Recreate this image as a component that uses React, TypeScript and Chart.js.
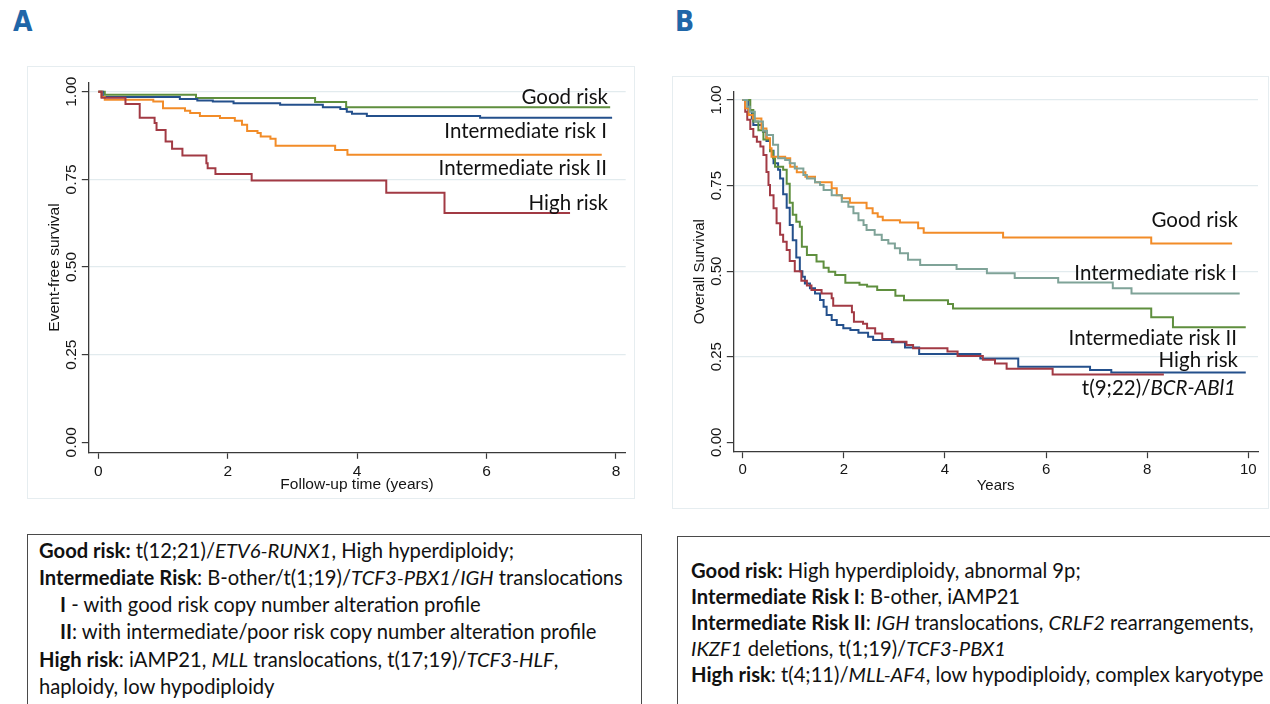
import React, { useEffect, useRef } from "react";
import { Chart, registerables } from "chart.js";

Chart.register(...registerables);

// ---------------- Panel A (Event-free survival) ----------------
const aXTicks = [0, 2, 4, 6, 8];
const aXTickLabels = ["0", "2", "4", "6", "8"];
const aYTicks = [0, 0.25, 0.5, 0.75, 1];
const aYTickLabels = ["0.00", "0.25", "0.50", "0.75", "1.00"];

const aGoodT = [0, 0.1, 1.51, 3.35, 3.83, 7.91];
const aGoodS = [1.0, 0.991, 0.982, 0.971, 0.956, 0.956];

const aInt1T = [0, 0.07, 1.26, 1.53, 1.77, 2.09, 2.81, 3.47, 3.74, 3.84, 3.92, 4.15, 5.9, 7.94];
const aInt1S = [1.0, 0.985, 0.979, 0.975, 0.972, 0.967, 0.963, 0.956, 0.951, 0.943, 0.937, 0.931, 0.926, 0.926];

const aInt2T = [0, 0.05, 0.1, 0.85, 1.0, 1.34, 1.42, 1.57, 1.88, 2.11, 2.22, 2.3, 2.46, 2.51, 2.66, 2.74, 3.66, 3.85, 7.78];
const aInt2S = [1.0, 0.985, 0.977, 0.972, 0.953, 0.946, 0.939, 0.931, 0.925, 0.917, 0.906, 0.888, 0.882, 0.872, 0.866, 0.846, 0.834, 0.82, 0.82];

const aHighT = [0, 0.05, 0.42, 0.64, 0.87, 0.9, 1.04, 1.14, 1.3, 1.67, 1.69, 1.81, 2.37, 4.45, 5.35, 7.29];
const aHighS = [1.0, 0.983, 0.965, 0.926, 0.911, 0.891, 0.858, 0.837, 0.818, 0.796, 0.782, 0.765, 0.747, 0.712, 0.654, 0.654];

// ---------------- Panel B (Overall survival) ----------------
const bXTicks = [0, 2, 4, 6, 8, 10];
const bXTickLabels = ["0", "2", "4", "6", "8", "10"];
const bYTicks = [0, 0.25, 0.5, 0.75, 1];
const bYTickLabels = ["0.00", "0.25", "0.50", "0.75", "1.00"];

const bGoodT = [0, 0.05, 0.12, 0.2, 0.37, 0.47, 0.54, 0.57, 0.84, 0.94, 1.07, 1.24, 1.43, 1.76, 1.86, 1.96, 2.12, 2.45, 2.57, 2.67, 2.77, 3.11, 3.47, 3.58, 5.15, 8.08, 9.68];
const bGoodS = [1.0, 0.976, 0.956, 0.946, 0.917, 0.888, 0.859, 0.834, 0.83, 0.805, 0.789, 0.776, 0.76, 0.742, 0.722, 0.713, 0.7, 0.684, 0.669, 0.659, 0.649, 0.642, 0.625, 0.612, 0.598, 0.581, 0.581];

const bInt1T = [0, 0.09, 0.14, 0.24, 0.4, 0.48, 0.6, 0.7, 0.84, 0.93, 1.03, 1.2, 1.27, 1.43, 1.53, 1.6, 1.76, 1.96, 2.09, 2.19, 2.29, 2.39, 2.45, 2.61, 2.75, 2.88, 3.01, 3.11, 3.27, 3.51, 4.23, 4.83, 5.38, 6.24, 7.32, 7.69, 9.83];
const bInt1S = [1.0, 0.98, 0.966, 0.937, 0.91, 0.898, 0.869, 0.83, 0.825, 0.815, 0.8, 0.781, 0.771, 0.76, 0.752, 0.737, 0.722, 0.703, 0.688, 0.669, 0.649, 0.635, 0.62, 0.606, 0.591, 0.581, 0.567, 0.552, 0.533, 0.518, 0.506, 0.494, 0.48, 0.467, 0.45, 0.435, 0.435];

const bInt2T = [0, 0.15, 0.21, 0.31, 0.41, 0.54, 0.6, 0.64, 0.8, 0.87, 0.93, 0.99, 1.06, 1.13, 1.17, 1.27, 1.46, 1.6, 1.7, 1.83, 2.03, 2.31, 2.46, 2.66, 3.02, 3.19, 4.06, 4.16, 8.08, 8.51, 9.95];
const bInt2S = [1.0, 0.971, 0.937, 0.912, 0.885, 0.85, 0.83, 0.805, 0.796, 0.755, 0.7, 0.665, 0.644, 0.63, 0.571, 0.547, 0.528, 0.51, 0.498, 0.489, 0.466, 0.46, 0.455, 0.445, 0.428, 0.415, 0.404, 0.391, 0.365, 0.336, 0.336];

const bHighT = [0, 0.11, 0.18, 0.21, 0.4, 0.47, 0.54, 0.61, 0.7, 0.74, 0.8, 0.87, 0.93, 0.99, 1.06, 1.13, 1.18, 1.23, 1.33, 1.43, 1.53, 1.6, 1.66, 1.76, 1.86, 1.99, 2.13, 2.29, 2.48, 2.58, 2.95, 3.21, 3.49, 4.7, 5.45, 6.87, 7.29, 9.95];
const bHighS = [1.0, 0.971, 0.946, 0.927, 0.907, 0.88, 0.852, 0.815, 0.796, 0.771, 0.725, 0.685, 0.635, 0.59, 0.54, 0.5, 0.484, 0.464, 0.45, 0.435, 0.416, 0.396, 0.372, 0.357, 0.343, 0.333, 0.328, 0.32, 0.308, 0.299, 0.292, 0.277, 0.258, 0.245, 0.221, 0.211, 0.204, 0.204];

const bBcrT = [0, 0.05, 0.09, 0.15, 0.21, 0.28, 0.35, 0.41, 0.47, 0.51, 0.54, 0.61, 0.67, 0.74, 0.8, 0.87, 0.93, 1.03, 1.16, 1.27, 1.36, 1.56, 1.76, 1.79, 2.16, 2.2, 2.38, 2.46, 2.62, 2.76, 2.98, 3.24, 3.37, 4.05, 4.25, 4.75, 4.99, 5.22, 6.13, 8.33];
const bBcrS = [1.0, 0.966, 0.942, 0.915, 0.893, 0.878, 0.864, 0.839, 0.79, 0.752, 0.722, 0.684, 0.64, 0.606, 0.586, 0.562, 0.53, 0.5, 0.472, 0.458, 0.445, 0.435, 0.421, 0.399, 0.38, 0.352, 0.346, 0.333, 0.318, 0.302, 0.294, 0.284, 0.275, 0.265, 0.252, 0.241, 0.23, 0.215, 0.198, 0.198];

// ---------------- styling ----------------
const C_BLUE = "#24508c";
const C_RED = "#a23a44";
const C_GREEN = "#5f8f3e";
const C_ORANGE = "#f28c28";
const C_TEAL = "#7fa398";
const AXIS = "#3a3a3a";
const GRID = "#e2ebee";
const TXT = "#151515";
const AXFONT = '"Liberation Sans", Arial, Helvetica, sans-serif';
const LBLFONT = 'Lato, "Open Sans", sans-serif';

type Series = { label: string; t: number[]; s: number[]; color: string };

type KMProps = {
  left: number;
  top: number;
  width: number;
  height: number;
  series: Series[];
  xMin: number;
  xMax: number;
  yMin: number;
  yMax: number;
  xTicks: number[];
  xTickLabels: string[];
  yTicks: number[];
  yTickLabels: string[];
  xTitle: string;
  yTitle: string;
  fontSize: number;
  padTop: number;
  padRight: number;
  yScaleWidth: number;
  xScaleHeight: number;
  xTickPad: number;
  yTickPad: number;
  yTitlePad: number;
  xTitlePad: number;
};

function KMChart(p: KMProps) {
  const ref = useRef<HTMLCanvasElement | null>(null);
  useEffect(() => {
    if (!ref.current) return;
    const chart = new Chart(ref.current, {
      type: "line",
      data: {
        datasets: p.series.map((sr) => ({
          label: sr.label,
          data: sr.t.map((x, i) => ({ x, y: sr.s[i] })),
          borderColor: sr.color,
          backgroundColor: sr.color,
          borderWidth: 2,
          pointRadius: 0,
          stepped: "before" as const,
          fill: false,
          tension: 0,
        })),
      },
      options: {
        responsive: false,
        animation: false,
        events: [],
        layout: { padding: { left: 0, top: p.padTop, right: p.padRight, bottom: 0 } },
        plugins: { legend: { display: false }, tooltip: { enabled: false } },
        scales: {
          x: {
            type: "linear",
            min: p.xMin,
            max: p.xMax,
            afterBuildTicks: (sc: any) => {
              sc.ticks = p.xTicks.map((v) => ({ value: v }));
            },
            afterFit: (sc: any) => {
              sc.height = p.xScaleHeight;
            },
            ticks: {
              autoSkip: false,
              maxRotation: 0,
              padding: p.xTickPad,
              color: TXT,
              font: { family: AXFONT, size: p.fontSize },
              callback: (_v: any, i: number) => p.xTickLabels[i],
            },
            grid: {
              drawOnChartArea: false,
              tickLength: 6.5,
              tickColor: AXIS,
              tickWidth: 1.2,
            },
            border: { display: true, color: AXIS, width: 1.3 },
            title: {
              display: true,
              text: p.xTitle,
              color: TXT,
              font: { family: AXFONT, size: p.fontSize },
              padding: { top: 0, bottom: p.xTitlePad },
            },
          },
          y: {
            type: "linear",
            min: p.yMin,
            max: p.yMax,
            afterBuildTicks: (sc: any) => {
              sc.ticks = p.yTicks.map((v) => ({ value: v }));
            },
            afterFit: (sc: any) => {
              sc.width = p.yScaleWidth;
            },
            ticks: {
              autoSkip: false,
              minRotation: 90,
              maxRotation: 90,
              crossAlign: "center",
              padding: p.yTickPad,
              color: TXT,
              font: { family: AXFONT, size: p.fontSize },
              callback: (_v: any, i: number) => p.yTickLabels[i],
            },
            grid: {
              color: (ctx: any) => (ctx.tick && ctx.tick.value === 0 ? "rgba(0,0,0,0)" : GRID),
              lineWidth: 1.2,
              tickLength: 6.5,
              tickColor: AXIS,
              tickWidth: 1.2,
            },
            border: { display: true, color: AXIS, width: 1.3 },
            title: {
              display: true,
              text: p.yTitle,
              color: TXT,
              font: { family: AXFONT, size: p.fontSize },
              padding: { top: p.yTitlePad, bottom: 0 },
            },
          },
        },
      },
    });
    return () => chart.destroy();
  }, []);
  return (
    <canvas
      ref={ref}
      width={p.width}
      height={p.height}
      style={{ position: "absolute", left: p.left, top: p.top, width: p.width, height: p.height }}
    />
  );
}

const aSeries: Series[] = [
  { label: "High risk", t: aHighT, s: aHighS, color: C_RED },
  { label: "Intermediate risk II", t: aInt2T, s: aInt2S, color: C_ORANGE },
  { label: "Intermediate risk I", t: aInt1T, s: aInt1S, color: C_BLUE },
  { label: "Good risk", t: aGoodT, s: aGoodS, color: C_GREEN },
];

const bSeries: Series[] = [
  { label: "Intermediate risk I", t: bInt1T, s: bInt1S, color: C_TEAL },
  { label: "Good risk", t: bGoodT, s: bGoodS, color: C_ORANGE },
  { label: "Intermediate risk II", t: bInt2T, s: bInt2S, color: C_GREEN },
  { label: "t(9;22)/BCR-ABl1", t: bBcrT, s: bBcrS, color: C_RED },
  { label: "High risk", t: bHighT, s: bHighS, color: C_BLUE },
];

function CurveLabel({ right, baseline, children }: { right: number; baseline: number; children: React.ReactNode }) {
  return (
    <div
      style={{
        position: "absolute",
        left: right - 400,
        width: 400,
        top: baseline - 19.9,
        textAlign: "right",
        fontFamily: LBLFONT,
        fontSize: 20.5,
        lineHeight: "24px",
        color: "#111",
        whiteSpace: "nowrap",
      }}
    >
      {children}
    </div>
  );
}

export default function App() {
  return (
    <div style={{ position: "fixed", inset: 0, overflow: "hidden", background: "#fff" }}>
      {/* panel letters */}
      <div
        style={{
          position: "absolute",
          left: 13,
          top: 8.4,
          fontFamily: '"Liberation Sans Narrow", "DejaVu Sans Condensed", "Liberation Sans", sans-serif',
          fontStretch: "condensed",
          fontWeight: 700,
          fontSize: 28,
          lineHeight: "28px",
          color: "#1f66a8",
        }}
      >
        A
      </div>
      <div
        style={{
          position: "absolute",
          left: 675,
          top: 8.4,
          fontFamily: '"Liberation Sans Narrow", "DejaVu Sans Condensed", "Liberation Sans", sans-serif',
          fontStretch: "condensed",
          fontWeight: 700,
          fontSize: 28,
          lineHeight: "28px",
          color: "#1f66a8",
        }}
      >
        B
      </div>

      {/* graph region frames */}
      <div style={{ position: "absolute", left: 27, top: 66, width: 608, height: 433, boxSizing: "border-box", border: "1px solid #e6edf0" }} />
      <div style={{ position: "absolute", left: 672, top: 76, width: 597, height: 433, boxSizing: "border-box", border: "1px solid #e6edf0" }} />

      <KMChart
        left={28}
        top={67}
        width={606}
        height={431}
        series={aSeries}
        xMin={-0.1545}
        xMax={8.15}
        yMin={-0.0285}
        yMax={1.0257}
        xTicks={aXTicks}
        xTickLabels={aXTickLabels}
        yTicks={aYTicks}
        yTickLabels={aYTickLabels}
        xTitle="Follow-up time (years)"
        yTitle="Event-free survival"
        fontSize={15.5}
        padTop={15.7}
        padRight={8.3}
        yScaleWidth={60.3}
        xScaleHeight={45.7}
        xTickPad={3.5}
        yTickPad={-4.6}
        yTitlePad={17.3}
        xTitlePad={4}
      />
      <KMChart
        left={673}
        top={77}
        width={595}
        height={431}
        series={bSeries}
        xMin={-0.186}
        xMax={10.192}
        yMin={-0.0275}
        yMax={1.0243}
        xTicks={bXTicks}
        xTickLabels={bXTickLabels}
        yTicks={bYTicks}
        yTickLabels={bYTickLabels}
        xTitle="Years"
        yTitle="Overall Survival"
        fontSize={15}
        padTop={14.7}
        padRight={10}
        yScaleWidth={60.3}
        xScaleHeight={56.3}
        xTickPad={3.1}
        yTickPad={-4.3}
        yTitlePad={17.8}
        xTitlePad={13.5}
      />

      {/* curve labels A */}
      <CurveLabel right={608} baseline={103.5}>Good risk</CurveLabel>
      <CurveLabel right={607} baseline={137.7}>Intermediate risk I</CurveLabel>
      <CurveLabel right={607} baseline={175}>Intermediate risk II</CurveLabel>
      <CurveLabel right={608} baseline={210}>High risk</CurveLabel>

      {/* curve labels B */}
      <CurveLabel right={1238} baseline={227.3}>Good risk</CurveLabel>
      <CurveLabel right={1237} baseline={280}>Intermediate risk I</CurveLabel>
      <CurveLabel right={1237} baseline={345}>Intermediate risk II</CurveLabel>
      <CurveLabel right={1238} baseline={367.3}>High risk</CurveLabel>
      <CurveLabel right={1236} baseline={395}>
        t(9;22)/<i>BCR-ABl1</i>
      </CurveLabel>

      {/* definition box A */}
      <div
        style={{
          position: "absolute",
          left: 27,
          top: 534,
          width: 615,
          height: 220,
          boxSizing: "border-box",
          border: "1px solid #4a4a4a",
          padding: "1.5px 0 0 11px",
          fontFamily: LBLFONT,
          fontSize: 20.2,
          lineHeight: "27.3px",
          color: "#111",
          whiteSpace: "nowrap",
        }}
      >
        <div><b>Good risk:</b> t(12;21)/<i>ETV6-RUNX1</i>, High hyperdiploidy;</div>
        <div><b>Intermediate Risk</b>: B-other/t(1;19)/<i>TCF3-PBX1</i>/<i>IGH</i> translocations</div>
        <div style={{ paddingLeft: 21 }}><b>I</b> - with good risk copy number alteration profile</div>
        <div style={{ paddingLeft: 21 }}><b>II</b>: with intermediate/poor risk copy number alteration profile</div>
        <div><b>High risk</b>: iAMP21, <i>MLL</i> translocations, t(17;19)/<i>TCF3-HLF</i>,</div>
        <div>haploidy, low hypodiploidy</div>
      </div>

      {/* definition box B */}
      <div
        style={{
          position: "absolute",
          left: 677,
          top: 536,
          width: 620,
          height: 220,
          boxSizing: "border-box",
          border: "1px solid #4a4a4a",
          padding: "20px 0 0 13px",
          fontFamily: LBLFONT,
          fontSize: 20.2,
          lineHeight: "26px",
          color: "#111",
          whiteSpace: "nowrap",
        }}
      >
        <div><b>Good risk:</b> High hyperdiploidy, abnormal 9p;</div>
        <div><b>Intermediate Risk I</b>: B-other, iAMP21</div>
        <div><b>Intermediate Risk II</b>: <i>IGH</i> translocations, <i>CRLF2</i> rearrangements,</div>
        <div><i>IKZF1</i> deletions, t(1;19)/<i>TCF3-PBX1</i></div>
        <div><b>High risk</b>: t(4;11)/<i>MLL-AF4</i>, low hypodiploidy, complex karyotype</div>
      </div>
    </div>
  );
}
